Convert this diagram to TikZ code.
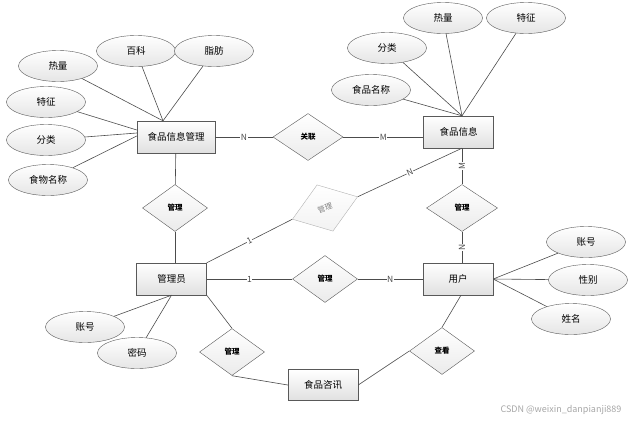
\documentclass[tikz,border=0pt]{standalone}
\usepackage{fontspec}
\newfontfamily\cjk{Noto Sans CJK SC}
\usetikzlibrary{shapes.geometric}

\newcommand{\entitybox}[4][]{%
 \node [entity,#1] ({#2}) at ({#3}) {#4};%
}
\newcommand{\attrib}[3]{%
 \node [attr] ({#1}) at ({#2}) {#3};%
}
\newcommand{\relship}[4][]{%
 \node [rel,#1] ({#2}) at ({#3}) {#4};%
}

\begin{document}
\begin{tikzpicture}[x=1pt,y=-1pt,
  every node/.style={font=\cjk\fontsize{9.5}{11}\selectfont},
  entity/.style={draw=black!65,top color=white,bottom color=black!12,minimum width=70pt,minimum height=32pt,inner sep=0pt},
  attr/.style={ellipse,draw=black!65,top color=white,bottom color=black!10,minimum width=79pt,minimum height=31pt,inner sep=0pt},
  rel/.style={diamond,draw=black!65,top color=white,bottom color=black!8,minimum width=65pt,minimum height=47pt,inner sep=0pt,font=\cjk\bfseries\fontsize{7.5}{9}\selectfont},
  card/.style={fill=white,inner sep=0.5pt,font=\cjk\fontsize{8.5}{9}\selectfont},
  every edge/.style={draw,black!70,line width=0.6pt}]
   \useasboundingbox (0,0) rectangle (635,421);
   % entities
   \entitybox[minimum width=78pt]{gm}{176,137}{食品信息管理}
   \entitybox{fi}{458.5,132}{食品信息}
   \entitybox{ad}{171.5,279}{管理员}
   \entitybox{uh}{458,279}{用户}
   \entitybox[minimum height=31pt]{zx}{323,385}{食品咨讯}
   % attributes
   \attrib{a1}{58,66}{热量}
   \attrib{a2}{136,51}{百科}
   \attrib{a3}{214,51}{脂肪}
   \attrib{a4}{46,102}{特征}
   \attrib{a5}{46,140}{分类}
   \attrib{a6}{48,180}{食物名称}
   \attrib{b1}{443,18}{热量}
   \attrib{b2}{526,18}{特征}
   \attrib{b3}{387,48}{分类}
   \attrib{b4}{371,90}{食品名称}
   \attrib{c1}{586,242}{账号}
   \attrib{c2}{588,280}{性别}
   \attrib{c3}{571,319}{姓名}
   \attrib{d1}{85,327}{账号}
   \attrib{d2}{137,353}{密码}
   % relations
   \relship[minimum width=70pt]{r1}{308,137}{关联}
   \relship{r2}{175,208}{管理}
   \relship[minimum width=71pt]{r3}{462,208}{管理}
   \relship{r4}{325,279}{管理}
   \relship[draw=black!30,text=black!50,bottom color=black!5,rotate=19,minimum width=69pt,minimum height=49pt,font=\cjk\fontsize{7.5}{9}\selectfont]{r5}{325,208}{管理}
   \relship{r6}{232,352}{管理}
   \relship{r7}{442,351}{查看}
   % end points on the boxes
   \coordinate (gmT) at ([xshift=-13pt]gm.north);
   \coordinate (gmL1) at ([yshift=7pt]gm.west);
   \coordinate (gmL2) at ([yshift=4pt]gm.west);
   \coordinate (gmL3) at ([yshift=1pt]gm.west);
   \coordinate (fiT) at ([xshift=3.5pt]fi.north);
   \coordinate (fiB) at ([xshift=3.5pt]fi.south);
   \coordinate (fiL) at (r1.east -| fi.west);
   \coordinate (uhT) at ([xshift=4pt]uh.north);
   \coordinate (uhB) at ([xshift=3pt]uh.south);
   \coordinate (adT) at ([xshift=3.5pt]ad.north);
   % attribute links
   \path (a1) edge (gmT) (a2) edge (gmT) (a3) edge (gmT);
   \path (a4) edge (gmL1) (a5) edge (gmL2) (a6) edge (gmL3);
   \path (b1) edge (fiT) (b2) edge (fiT) (b3) edge (fiT) (b4) edge (fiT);
   \path (c1) edge (uh.east) (c2) edge (uh.east) (c3) edge (uh.east);
   \path (d1) edge (ad.south) (d2) edge (ad.south);
   % relation links
   \path (gm) edge node[card]{N} (r1);
   \path (r1) edge node[card]{M} (fiL);
   \path (gm) edge (r2);
   \path (r2) edge (adT);
   \path (fiB) edge node[card,rotate=90]{M} (r3);
   \path (r3) edge node[card,rotate=90]{N} (uhT);
   \path (ad) edge node[card]{1} (r4);
   \path (r4) edge node[card]{N} (uh);
   \path (ad.north east) edge node[card,sloped]{1} (r5.west);
   \path (r5.east) edge node[card,sloped]{N} (fiB);
   \path (ad.south east) edge (r6.north);
   \path (r6.south) edge (zx.west);
   \path (zx.east) edge (r7.west);
   \path (r7.north) edge (uhB);
   \node [text=black!35,font=\cjk\fontsize{9}{10}\selectfont,anchor=east] (wm) at (625,410) {CSDN @weixin\_danpianji889};
\end{tikzpicture}
\end{document}
